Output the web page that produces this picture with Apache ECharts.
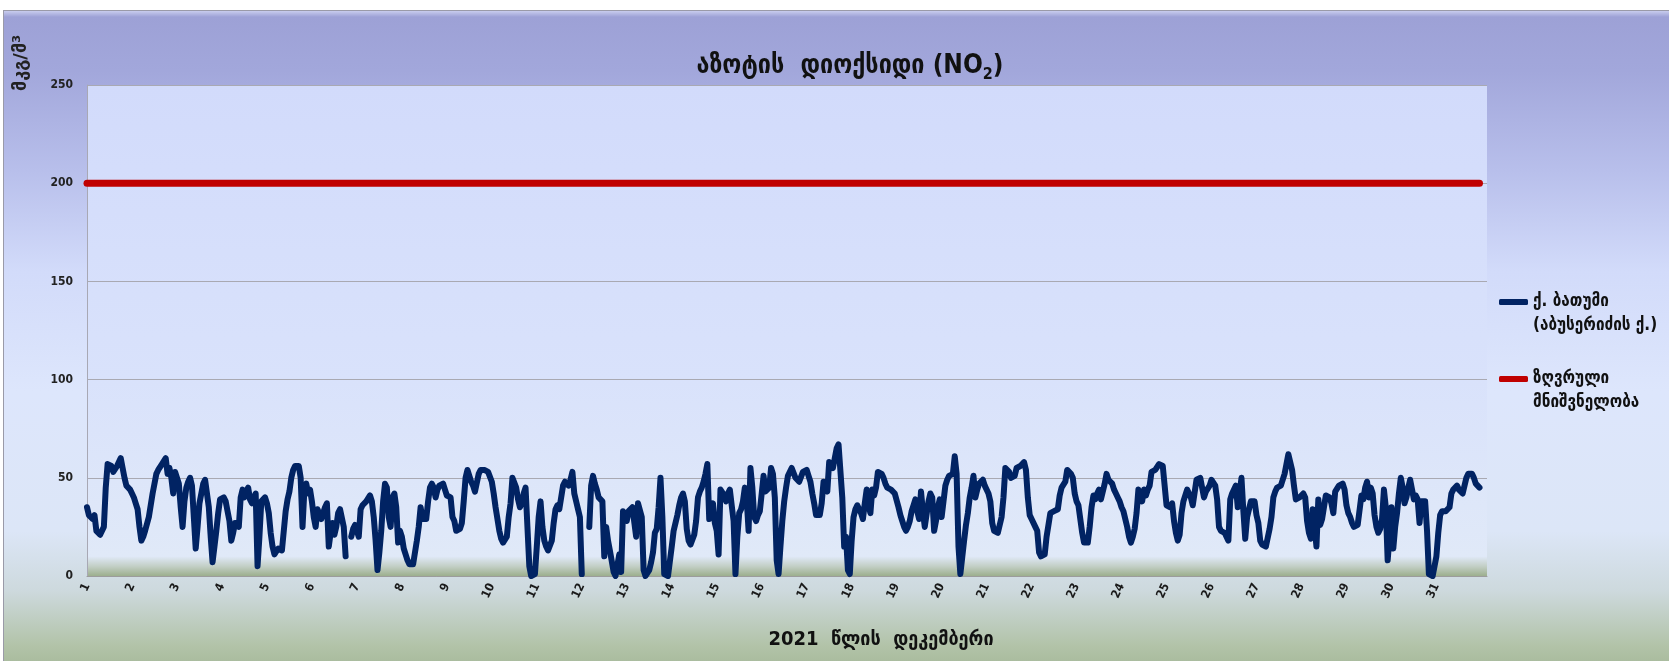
<!DOCTYPE html>
<html>
<head>
<meta charset="utf-8">
<script src="https://cdn.jsdelivr.net/npm/echarts@6/dist/echarts.min.js"></script>
<style>
html, body { margin: 0; padding: 0; background: #ffffff; }
#wrap { position: relative; width: 1669px; height: 661px; overflow: hidden; }
#frame {
  position: absolute; left: 3px; top: 10px; width: 1680px; height: 660px;
  box-sizing: border-box;
  border-left: 1px solid #9a9aa8; border-top: 1px solid #9a9aa8;
  background: linear-gradient(to bottom,
    #c8ccee 0px, #9da1d6 6px, #a2a7db 60px, #b8bfeb 160px, #d2dbfa 260px,
    #dde6fc 380px, #dce6f7 520px, #cdd9dd 580px, #b2c3a8 635px, #a5b899 660px);
}
#chart { position: absolute; left: 0; top: 0; width: 1669px; height: 661px; }
</style>
</head>
<body>
<div id="wrap">
  <div id="frame"></div>
  <div id="chart"></div>
</div>
<script>
// Hourly NO2 concentration, Batumi (Abuseridze st.), December 2021, µg/m³
const dayLabels = ['1','2','3','4','5','6','7','8','9','10','11','12','13','14','15','16',
  '17','18','19','20','21','22','23','24','25','26','27','28','29','30','31'];
const hourLabels = ['00','01','02','03','04','05','06','07','08','09','10','11',
  '12','13','14','15','16','17','18','19','20','21','22','23'];

const dec01 = [35,31,30,29,31,23,22,21,20,25,45,57,58,56,53,54,56,58,60,55,50,46,45,44];
const dec02 = [42,40,37,34,25,18,20,23,24,30,36,42,47,52,54,55,57,58,60,52,55,50,42,53];
const dec03 = [52,47,35,25,38,45,48,50,46,30,14,25,37,42,47,49,42,35,20,7,15,23,32,39];
const dec04 = [40,40,38,33,28,18,22,27,26,25,40,44,40,43,45,39,37,40,42,5,20,38,39,40];
const dec05 = [37,32,22,15,11,12,14,13,13,14,33,39,43,50,54,56,56,56,50,25,44,47,42,44];
const dec06 = [38,30,25,34,35,29,32,35,37,15,22,27,21,25,32,34,33,25,10,null,null,20,24,26];
const dec07 = [27,20,34,36,37,38,38,41,38,30,18,3,12,23,38,47,45,30,25,40,42,35,17,23];
const dec08 = [20,14,11,8,6,5,6,7,18,25,35,29,28,29,38,45,47,45,40,44,46,47,47,44];
const dec09 = [41,40,40,30,28,23,22,24,27,38,50,54,51,48,46,43,43,52,54,54,54,54,53,52];
const dec10 = [48,42,35,29,23,19,17,18,20,30,37,50,51,45,39,35,37,42,45,25,5,0,0,1];
const dec11 = [15,30,38,25,18,15,13,14,18,27,34,36,34,40,46,48,48,46,49,53,42,38,34,30];
const dec12 = [1,null,null,null,25,46,51,47,44,40,39,38,10,25,18,13,12,2,0,0,11,2,33,33];
const dec13 = [28,33,34,35,35,20,37,36,30,3,0,1,3,7,12,22,24,35,50,30,1,0,0,0];
const dec14 = [15,23,27,31,36,40,42,38,24,18,16,15,21,28,40,43,45,48,52,57,29,33,37,27];
const dec15 = [23,11,44,43,41,38,42,44,43,28,1,20,32,34,38,45,39,23,55,45,30,28,31,33];
const dec16 = [42,51,43,44,45,55,52,40,8,1,15,28,38,45,51,52,55,54,50,50,48,49,53,54];
const dec17 = [54,51,48,42,37,31,30,31,37,48,49,43,58,57,55,60,65,67,67,40,15,20,3,1];
const dec18 = [18,30,34,36,35,32,29,37,44,36,32,44,41,45,53,53,52,50,47,45,44,44,44,42];
const dec19 = [41,35,31,28,25,23,25,28,33,36,39,33,29,43,33,25,24,38,42,40,23,28,35,39];
const dec20 = [30,30,46,49,51,52,52,61,52,15,1,0,18,26,32,40,45,51,40,44,47,46,49,46];
const dec21 = [45,42,38,27,23,22,22,22,30,40,55,55,53,50,50,51,55,56,56,57,58,54,40,31];
const dec22 = [29,28,25,23,12,10,9,11,20,26,32,32,33,33,34,41,45,45,48,54,53,52,50,42];
const dec23 = [38,36,35,22,17,16,17,25,35,41,39,42,44,39,40,47,52,49,50,47,44,42,40,38];
const dec24 = [35,33,32,25,20,17,20,24,32,44,40,38,44,41,44,46,53,54,54,55,57,57,56,55];
const dec25 = [36,35,35,37,28,22,18,21,32,38,38,44,45,40,36,36,49,50,50,49,40,43,43,46];
const dec26 = [49,49,46,39,25,23,22,22,21,18,39,42,44,46,35,42,50,33,19,30,34,38,38,38];
const dec27 = [31,27,18,16,15,15,16,24,30,40,43,45,44,46,46,52,57,62,62,54,46,39,38,40];
const dec28 = [41,42,40,28,22,19,34,25,15,39,26,29,35,41,41,40,37,32,43,42,46,46,47,44];
const dec29 = [36,32,30,27,25,26,26,27,41,39,45,48,40,45,42,31,25,22,24,29,44,35,8,20];
const dec30 = [35,14,25,32,42,50,45,37,40,45,49,44,39,41,39,27,38,38,38,23,1,0,0,1];
const dec31 = [10,22,31,33,33,33,33,35,42,44,45,46,44,43,42,41,50,52,52,52,50,47,46,45];

const stationName = 'ქ. ბათუმი (აბუსერიძის ქ.)';
const limitName = 'ზღვრული მნიშვნელობა';
const limitValue = 200;

// legend entries wrap onto two lines; the leading blank line keeps the
// swatch level with the first line of text
const legendText = {};
legendText[stationName] = ' \nქ. ბათუმი\n(აბუსერიძის ქ.)';
legendText[limitName] = ' \nზღვრული\nმნიშვნელობა';

const dailyValues = [dec01, dec02, dec03, dec04, dec05, dec06, dec07, dec08, dec09, dec10,
  dec11, dec12, dec13, dec14, dec15, dec16, dec17, dec18, dec19, dec20, dec21, dec22,
  dec23, dec24, dec25, dec26, dec27, dec28, dec29, dec30, dec31];

const hourCategories = [];
dayLabels.forEach(d => hourLabels.forEach(h => hourCategories.push(d + ' ' + h)));
const hourCount = hourCategories.length;
// a little spare room on the right end of the time axis
const axisCategories = hourCategories.concat(['end+1', 'end+2', 'end+3', 'end+4']);

const batumiHourly = [].concat(...dailyValues);
const limitLine = [[hourCategories[0], limitValue], [hourCategories[hourCount - 1], limitValue]];

const FONT = 'DejaVu Sans Condensed';
const FONT_WIDE = 'DejaVu Sans';

const chart = echarts.init(document.getElementById('chart'), null, { renderer: 'canvas' });
chart.setOption({
  animation: false,
  backgroundColor: 'transparent',
  title: {
    text: '{a|აზოტის  დიოქსიდი (NO}{s|2}{a|)}',
    left: 845,
    top: 44,
    textAlign: 'center',
    textStyle: {
      rich: {
        a: { fontFamily: FONT, fontSize: 26, fontWeight: 'bold', color: '#111111', lineHeight: 34, verticalAlign: 'middle' },
        s: { fontFamily: FONT, fontSize: 16, fontWeight: 'bold', color: '#111111', lineHeight: 16, verticalAlign: 'bottom' }
      }
    }
  },
  grid: {
    left: 87, right: 182, top: 85, bottom: 85,
    show: true, borderWidth: 0,
    backgroundColor: new echarts.graphic.LinearGradient(0, 0, 0, 1, [
      { offset: 0, color: '#d2dbfb' },
      { offset: 0.6, color: '#d9e2fb' },
      { offset: 0.96, color: '#e0e9f8' },
      { offset: 0.98, color: '#c3cfc6' },
      { offset: 1, color: '#9daf8e' }
    ])
  },
  legend: {
    orient: 'vertical',
    left: 1499,
    top: 266,
    padding: 0,
    itemGap: 5,
    itemWidth: 29,
    itemHeight: 6,
    icon: 'roundRect',
    data: [stationName, limitName],
    formatter: name => legendText[name],
    textStyle: { fontFamily: FONT, fontWeight: 'bold', fontSize: 17, color: '#111111', lineHeight: 24 }
  },
  xAxis: {
    type: 'category',
    data: axisCategories,
    boundaryGap: false,
    axisTick: { show: false },
    axisLine: { lineStyle: { color: '#9c9c9c', width: 1 } },
    splitLine: { show: false },
    axisLabel: {
      interval: (index) => index % 24 === 0 && index < hourCount,
      formatter: (value, index) => dayLabels[Math.floor(index / 24)] || '',
      rotate: 65,
      margin: 8,
      fontFamily: FONT,
      fontWeight: 'bold',
      fontSize: 12,
      color: '#1a1a1a'
    }
  },
  yAxis: {
    type: 'value',
    min: 0,
    max: 250,
    interval: 50,
    axisTick: { show: false },
    axisLine: { show: true, lineStyle: { color: '#a8a8b4', width: 1 } },
    splitLine: { lineStyle: { color: '#a9a9b2', width: 1 } },
    axisLabel: { fontFamily: FONT, fontWeight: 'bold', fontSize: 12, color: '#222222', margin: 14 }
  },
  graphic: [
    {
      type: 'text', x: 21, y: 63, rotation: Math.PI / 2,
      style: { text: 'მკგ/მ³', fontFamily: FONT_WIDE, fontWeight: 'bold', fontSize: 18, fill: '#222222', align: 'center', verticalAlign: 'middle' }
    },
    {
      type: 'text', x: 881, y: 640,
      style: { text: '2021  წლის  დეკემბერი', fontFamily: FONT, fontWeight: 'bold', fontSize: 20, fill: '#111111', align: 'center', verticalAlign: 'middle' }
    }
  ],
  series: [
    {
      name: stationName,
      type: 'line',
      data: batumiHourly,
      symbol: 'none',
      showSymbol: false,
      connectNulls: false,
      lineStyle: { width: 6, color: '#012363', cap: 'round', join: 'round' },
      itemStyle: { color: '#012363' },
      z: 3
    },
    {
      name: limitName,
      type: 'line',
      data: limitLine,
      symbol: 'none',
      showSymbol: false,
      lineStyle: { width: 7, color: '#c00000', cap: 'round' },
      itemStyle: { color: '#c00000' },
      z: 2
    }
  ]
});
</script>
</body>
</html>
